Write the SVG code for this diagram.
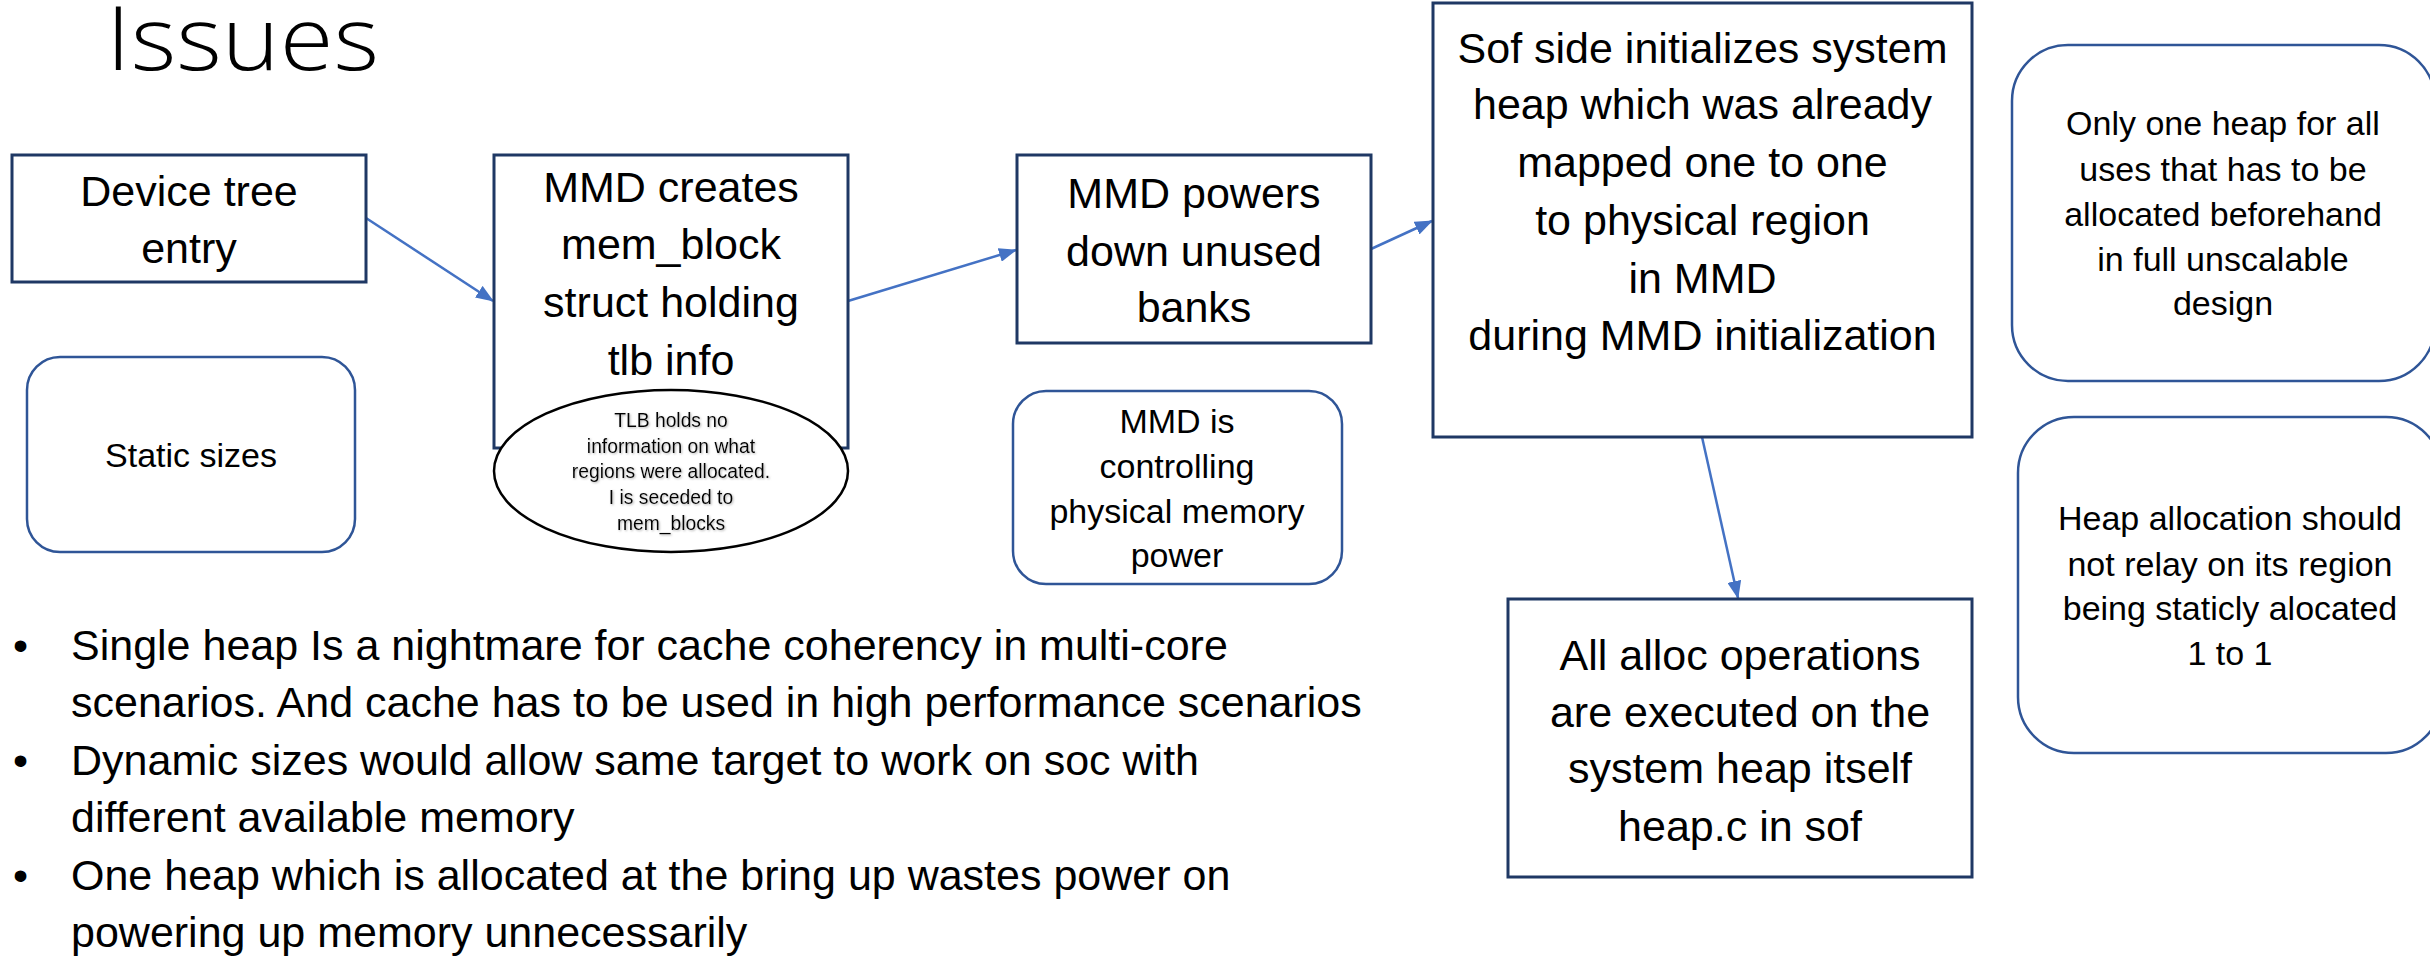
<svg xmlns="http://www.w3.org/2000/svg" width="2430" height="959" viewBox="0 0 2430 959">
<style>
.box{fill:#fff;stroke:#1F3864;stroke-width:3}
.rbox{fill:#fff;stroke:#2F5597;stroke-width:2.5}
.ell{fill:#fff;stroke:#000;stroke-width:2.5}
.t{font-family:"Liberation Sans",Arial,sans-serif;fill:#000;text-anchor:middle}
.big{font-size:43px}
.mid{font-size:34px}
.sm{font-size:19.3px}
.bul{font-family:"Liberation Sans",Arial,sans-serif;font-size:43px;fill:#000}
.title{font-family:"Open Sans","Liberation Sans",sans-serif;font-weight:300;font-size:88px;fill:#000}
.conn{stroke:#4472C4;stroke-width:2.5;fill:none}
</style>
<defs>
<marker id="arr" markerUnits="userSpaceOnUse" markerWidth="18" markerHeight="14" refX="17" refY="7" orient="auto">
<path d="M0,0 L18,7 L0,14 Z" fill="#4472C4"/>
</marker>
<filter id="shadow" x="-10%" y="-30%" width="120%" height="160%">
<feDropShadow dx="1" dy="1" stdDeviation="0.8" flood-color="#808080" flood-opacity="0.6"/>
</filter>
</defs>
<rect width="2430" height="959" fill="#fff"/>
<text class="title" x="106" y="70" textLength="273" lengthAdjust="spacingAndGlyphs">Issues</text>

<g id="connectors">
<line class="conn" x1="366" y1="218" x2="493" y2="301" marker-end="url(#arr)"/>
<line class="conn" x1="848" y1="301" x2="1016" y2="250" marker-end="url(#arr)"/>
<line class="conn" x1="1371" y1="249" x2="1432" y2="221" marker-end="url(#arr)"/>
<line class="conn" x1="1702" y1="437" x2="1738" y2="598" marker-end="url(#arr)"/>
</g>

<g id="device-tree">
<rect class="box" x="12" y="155" width="354" height="127"/>
<text class="t big" x="189" y="206">Device tree</text>
<text class="t big" x="189" y="263">entry</text>
</g>

<g id="static-sizes">
<rect class="rbox" x="27" y="357" width="328" height="195" rx="33"/>
<text class="t mid" x="191" y="467">Static sizes</text>
</g>

<g id="mmd-creates">
<rect class="box" x="494" y="155" width="354" height="293"/>
<text class="t big" x="671" y="202">MMD creates</text>
<text class="t big" x="671" y="259">mem_block</text>
<text class="t big" x="671" y="317">struct holding</text>
<text class="t big" x="671" y="375">tlb info</text>
</g>

<g id="tlb-note">
<ellipse class="ell" cx="671" cy="471" rx="177" ry="81"/>
<g filter="url(#shadow)">
<text class="t sm" x="671" y="427">TLB holds no</text>
<text class="t sm" x="671" y="453">information on what</text>
<text class="t sm" x="671" y="478">regions were allocated.</text>
<text class="t sm" x="671" y="504">I is seceded to</text>
<text class="t sm" x="671" y="530">mem_blocks</text>
</g>
</g>

<g id="mmd-powers">
<rect class="box" x="1017" y="155" width="354" height="188"/>
<text class="t big" x="1194" y="208">MMD powers</text>
<text class="t big" x="1194" y="266">down unused</text>
<text class="t big" x="1194" y="322">banks</text>
</g>

<g id="mmd-is">
<rect class="rbox" x="1013" y="391" width="329" height="193" rx="33"/>
<text class="t mid" x="1177" y="433">MMD is</text>
<text class="t mid" x="1177" y="478">controlling</text>
<text class="t mid" x="1177" y="523">physical memory</text>
<text class="t mid" x="1177" y="567">power</text>
</g>

<g id="sof-side">
<rect class="box" x="1433" y="3" width="539" height="434"/>
<text class="t big" x="1702.5" y="63">Sof side initializes system</text>
<text class="t big" x="1702.5" y="119">heap which was already</text>
<text class="t big" x="1702.5" y="177">mapped one to one</text>
<text class="t big" x="1702.5" y="235">to physical region</text>
<text class="t big" x="1702.5" y="293">in MMD</text>
<text class="t big" x="1702.5" y="350">during MMD initialization</text>
</g>

<g id="alloc-ops">
<rect class="box" x="1508" y="599" width="464" height="278"/>
<text class="t big" x="1740" y="670">All alloc operations</text>
<text class="t big" x="1740" y="727">are executed on the</text>
<text class="t big" x="1740" y="783">system heap itself</text>
<text class="t big" x="1740" y="841">heap.c in sof</text>
</g>

<g id="only-one-heap">
<rect class="rbox" x="2012" y="45" width="423" height="336" rx="56"/>
<text class="t mid" x="2223" y="135">Only one heap for all</text>
<text class="t mid" x="2223" y="181">uses that has to be</text>
<text class="t mid" x="2223" y="226">allocated beforehand</text>
<text class="t mid" x="2223" y="271">in full unscalable</text>
<text class="t mid" x="2223" y="315">design</text>
</g>

<g id="heap-allocation">
<rect class="rbox" x="2018" y="417" width="424" height="336" rx="56"/>
<text class="t mid" x="2230" y="530">Heap allocation should</text>
<text class="t mid" x="2230" y="576">not relay on its region</text>
<text class="t mid" x="2230" y="620">being staticly alocated</text>
<text class="t mid" x="2230" y="665">1 to 1</text>
</g>

<g id="bullets">
<text class="bul" x="13" y="660">•</text>
<text class="bul" x="71" y="660">Single heap Is a nightmare for cache coherency in multi-core</text>
<text class="bul" x="71" y="717">scenarios. And cache has to be used in high performance scenarios</text>
<text class="bul" x="13" y="775">•</text>
<text class="bul" x="71" y="775">Dynamic sizes would allow same target to work on soc with</text>
<text class="bul" x="71" y="832">different available memory</text>
<text class="bul" x="13" y="890">•</text>
<text class="bul" x="71" y="890">One heap which is allocated at the bring up wastes power on</text>
<text class="bul" x="71" y="947">powering up memory unnecessarily</text>
</g>
</svg>
